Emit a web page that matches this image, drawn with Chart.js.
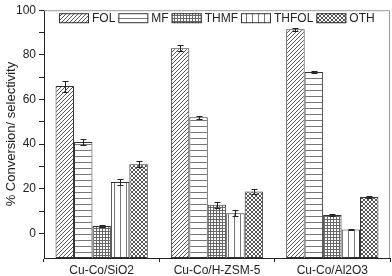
<!DOCTYPE html>
<html>
<head>
<meta charset="utf-8">
<script src="https://cdn.jsdelivr.net/npm/chart.js@4/dist/chart.umd.min.js"></script>
<style>
  html, body { margin: 0; padding: 0; background: #fff; }
  #wrap { width: 392px; height: 276px; }
</style>
</head>
<body>
<div id="wrap"><canvas id="grafica"></canvas></div>
<script>
// datos
const catalizadores = ['Cu-Co/SiO2', 'Cu-Co/H-ZSM-5', 'Cu-Co/Al2O3'];
const series = ['FOL', 'MF', 'THMF', 'THFOL', 'OTH'];
const valFOL   = [66, 83, 91.5];
const valMF    = [41, 52, 72.3];
const valTHMF  = [3.3, 12.8, 8.3];
const valTHFOL = [23, 9, 1.8];
const valOTH   = [31, 18.8, 16.3];
const errFOL   = [2.5, 1.3, 0.7];
const errMF    = [1.3, 0.6, 0.6];
const errTHMF  = [0.6, 1.3, 0.6];
const errTHFOL = [1.3, 1.3, 0.2];
const errOTH   = [1.3, 1.3, 0.6];
const yTicks = [0, 10, 20, 30, 40, 50, 60, 70, 80, 90, 100];
const yMin = -11, yMax = 100;

const fuente = "'Liberation Sans', Arial, sans-serif";
const tinta = '#222';

/*************** patrones de relleno ***************/
var ctxTmp = document.createElement('canvas').getContext('2d');
function crearPatron(tam, dibujar) {
    var c = document.createElement('canvas');
    c.width = tam; c.height = tam;
    var g = c.getContext('2d');
    g.fillStyle = '#fff';
    g.fillRect(0, 0, tam, tam);
    g.strokeStyle = '#555';
    g.fillStyle = '#555';
    g.lineWidth = 1;
    dibujar(g, tam);
    return ctxTmp.createPattern(c, 'repeat');
}
var pFOL = crearPatron(4, function(g, t){
    g.beginPath();
    g.moveTo(-1, t + 1); g.lineTo(t + 1, -1);
    g.moveTo(-1, 1); g.lineTo(1, -1);
    g.moveTo(t - 1, t + 1); g.lineTo(t + 1, t - 1);
    g.stroke();
});
var pMF = crearPatron(6, function(g, t){
    g.fillStyle = '#777';
    g.fillRect(0, 0, t, 1);
});
var pTHMF = crearPatron(3, function(g, t){
    g.fillStyle = '#666';
    g.fillRect(0, 0, t, 1);
    g.fillRect(0, 0, 1, t);
});
var pTHFOL = crearPatron(6, function(g, t){
    g.fillStyle = '#777';
    g.fillRect(0, 0, 1, t);
});
var pOTH = crearPatron(4, function(g, t){
    g.beginPath();
    g.moveTo(0, 0); g.lineTo(t, t);
    g.moveTo(0, t); g.lineTo(t, 0);
    g.stroke();
});

var valores = [valFOL, valMF, valTHMF, valTHFOL, valOTH];
var errores = [errFOL, errMF, errTHMF, errTHFOL, errOTH];
var patrones = [pFOL, pMF, pTHMF, pTHFOL, pOTH];

var datasets = [];
for (var i = 0; i < series.length; i++) {
    datasets.push({
        label: series[i],
        data: valores[i],
        errores: errores[i],
        backgroundColor: patrones[i],
        borderColor: '#333',
        borderWidth: 1,
        borderSkipped: false,
        base: yMin,
        categoryPercentage: 0.8,
        barPercentage: 1.0
    });
}

/*************** barras de error ***************/
const barrasError = {
    id: 'barrasError',
    afterDatasetsDraw(chart) {
        var ctx = chart.ctx;
        var ys = chart.scales.y;
        ctx.save();
        ctx.strokeStyle = '#222';
        ctx.lineWidth = 1;
        chart.data.datasets.forEach(function(ds, di){
            var meta = chart.getDatasetMeta(di);
            meta.data.forEach(function(bar, j){
                var v = ds.data[j], e = ds.errores[j];
                var x = Math.round(bar.x) + 0.5;
                var y1 = Math.round(ys.getPixelForValue(v + e)) + 0.5;
                var y2 = Math.round(ys.getPixelForValue(v - e)) + 0.5;
                ctx.beginPath();
                ctx.moveTo(x, y1); ctx.lineTo(x, y2);
                ctx.moveTo(x - 3, y1); ctx.lineTo(x + 3, y1);
                ctx.moveTo(x - 3, y2); ctx.lineTo(x + 3, y2);
                ctx.stroke();
            });
        });
        ctx.restore();
    }
};

/*************** marco y leyenda dentro del area ***************/
const marco = {
    id: 'marco',
    beforeDatasetsDraw(chart) {
        var a = chart.chartArea, ctx = chart.ctx;
        ctx.save();
        ctx.strokeStyle = '#999';
        ctx.lineWidth = 1;
        ctx.beginPath();
        ctx.moveTo(a.left, a.top + 0.5);
        ctx.lineTo(a.right - 0.5, a.top + 0.5);
        ctx.lineTo(a.right - 0.5, a.bottom);
        ctx.stroke();
        ctx.restore();
    },
    afterDraw(chart) {
        var a = chart.chartArea, ctx = chart.ctx;
        var caja = 30, alto = 10, hueco = 3, sep = 3;
        ctx.save();
        ctx.font = '12px ' + fuente;
        ctx.textBaseline = 'middle';
        var anchos = chart.data.datasets.map(function(ds){ return ctx.measureText(ds.label).width; });
        var total = 0;
        anchos.forEach(function(w){ total += caja + hueco + w; });
        total += sep * (anchos.length - 1);
        var x = Math.round((a.left + a.right) / 2 - total / 2);
        var yc = a.top + 8;
        chart.data.datasets.forEach(function(ds, i){
            ctx.fillStyle = ds.backgroundColor;
            ctx.fillRect(x, yc - alto / 2, caja, alto);
            ctx.strokeStyle = '#333';
            ctx.lineWidth = 1;
            ctx.strokeRect(x + 0.5, yc - alto / 2 + 0.5, caja - 1, alto - 1);
            ctx.fillStyle = tinta;
            ctx.fillText(ds.label, x + caja + hueco, yc + 0.5);
            x += caja + hueco + anchos[i] + sep;
        });
        ctx.restore();
    }
};

var grafica = new Chart(document.getElementById('grafica'), {
    type: 'bar',
    data: { labels: catalizadores, datasets: datasets },
    plugins: [marco, barrasError],
    options: {
        responsive: true,
        maintainAspectRatio: false,
        animation: false,
        layout: { padding: { left: 0, right: 2, top: 5, bottom: 0 } },
        plugins: {
            tooltip: { enabled: false },
            legend: { display: false }
        },
        scales: {
            x: {
                grid: { display: true, offset: true, drawOnChartArea: false, drawTicks: true, tickLength: 4, color: '#222' },
                border: { display: true, color: '#222', width: 1 },
                ticks: { color: tinta, padding: 1, font: { family: fuente, size: 12 } },
                afterFit: function(s){ s.height = 18; }
            },
            y: {
                min: yMin,
                max: yMax,
                afterBuildTicks: function(s){ s.ticks = yTicks.map(function(v){ return { value: v }; }); },
                grid: { display: true, drawOnChartArea: false, drawTicks: true, tickLength: 5,
                        color: '#222' },
                border: { display: true, color: '#222', width: 1 },
                ticks: {
                    color: tinta, padding: 3, autoSkip: false,
                    font: { family: fuente, size: 12 },
                    callback: function(v){ return v % 20 === 0 ? v : ''; }
                },
                title: {
                    display: true,
                    text: '% Conversion/ selectivity',
                    color: tinta,
                    font: { family: fuente, size: 13 },
                    padding: { top: 4, bottom: 0 }
                },
                afterFit: function(s){ s.width = 44; }
            }
        }
    }
});
</script>
</body>
</html>
